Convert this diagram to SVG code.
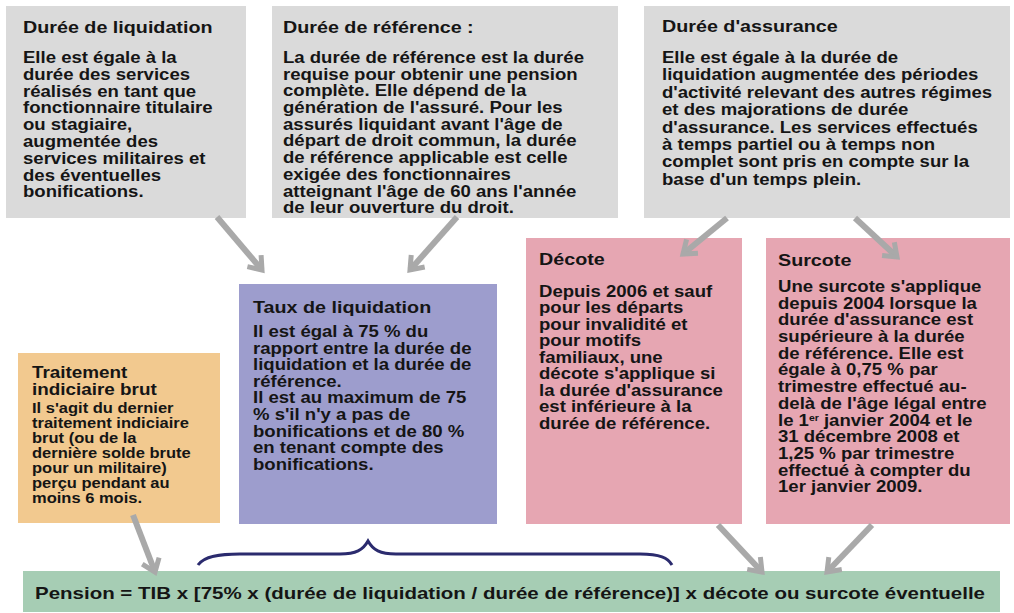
<svg xmlns="http://www.w3.org/2000/svg" width="1014" height="613" viewBox="0 0 1014 613">
<style>
.t{font-family:"Liberation Sans",Arial,sans-serif;font-weight:bold;fill:#151515}
.h{font-size:17px}
.b{font-size:16px}
.s{font-size:14px}
.gray{fill:#dadada}
.orange{fill:#f2c98f}
.purple{fill:#9d9dcd}
.pink{fill:#e6a6b2}
.green{fill:#a6cdb4}
.arr{stroke:#a9a9a9;stroke-width:6;fill:none;marker-end:url(#chev)}
</style>
<defs>
<marker id="chev" viewBox="0 0 24 24" markerWidth="24" markerHeight="24" refX="19" refY="12" orient="auto" markerUnits="userSpaceOnUse">
<path d="M7,3 L19,12 L7,21" fill="none" stroke="#a9a9a9" stroke-width="5"/>
</marker>
</defs>
<rect width="1014" height="613" fill="#ffffff"/>

<g id="duree-liquidation">
<rect class="gray" x="6" y="6" width="240" height="212"/>
<g transform="translate(23,0) scale(1.16,1)">
<text class="t h" x="0" y="33">Durée de liquidation</text>
<text class="t b"><tspan x="0" y="63">Elle est égale à la</tspan><tspan x="0" y="79.8">durée des services</tspan><tspan x="0" y="96.6">réalisés en tant que</tspan><tspan x="0" y="113.4">fonctionnaire titulaire</tspan><tspan x="0" y="130.2">ou stagiaire,</tspan><tspan x="0" y="147">augmentée des</tspan><tspan x="0" y="163.8">services militaires et</tspan><tspan x="0" y="180.6">des éventuelles</tspan><tspan x="0" y="197.4">bonifications.</tspan></text>
</g>
</g>

<g id="duree-reference">
<rect class="gray" x="272" y="6" width="346" height="212"/>
<g transform="translate(283,0) scale(1.16,1)">
<text class="t h" x="0" y="33">Durée de référence :</text>
<text class="t b"><tspan x="0" y="63">La durée de référence est la durée</tspan><tspan x="0" y="79.7">requise pour obtenir une pension</tspan><tspan x="0" y="96.4">complète. Elle dépend de la</tspan><tspan x="0" y="113.1">génération de l'assuré. Pour les</tspan><tspan x="0" y="129.8">assurés liquidant avant l'âge de</tspan><tspan x="0" y="146.5">départ de droit commun, la durée</tspan><tspan x="0" y="163.2">de référence applicable est celle</tspan><tspan x="0" y="179.9">exigée des fonctionnaires</tspan><tspan x="0" y="196.6">atteignant l'âge de 60 ans l'année</tspan><tspan x="0" y="213.3">de leur ouverture du droit.</tspan></text>
</g>
</g>

<g id="duree-assurance">
<rect class="gray" x="644" y="6" width="366" height="212"/>
<g transform="translate(662,0) scale(1.16,1)">
<text class="t h" x="0" y="32">Durée d'assurance</text>
<text class="t b"><tspan x="0" y="63">Elle est égale à la durée de</tspan><tspan x="0" y="80.4">liquidation augmentée des périodes</tspan><tspan x="0" y="97.8">d'activité relevant des autres régimes</tspan><tspan x="0" y="115.2">et des majorations de durée</tspan><tspan x="0" y="132.6">d'assurance. Les services effectués</tspan><tspan x="0" y="150">à temps partiel ou à temps non</tspan><tspan x="0" y="167.4">complet sont pris en compte sur la</tspan><tspan x="0" y="184.8">base d'un temps plein.</tspan></text>
</g>
</g>

<g id="tib">
<rect class="orange" x="18" y="353" width="202" height="170"/>
<g transform="translate(32,0) scale(1.18,1)">
<text class="t" font-size="16"><tspan x="0" y="378">Traitement</tspan><tspan x="0" y="395">indiciaire brut</tspan></text>
<text class="t s"><tspan x="0" y="413">Il s'agit du dernier</tspan><tspan x="0" y="428">traitement indiciaire</tspan><tspan x="0" y="443">brut (ou de la</tspan><tspan x="0" y="458">dernière solde brute</tspan><tspan x="0" y="473">pour un militaire)</tspan><tspan x="0" y="488">perçu pendant au</tspan><tspan x="0" y="503">moins 6 mois.</tspan></text>
</g>
</g>

<g id="taux">
<rect class="purple" x="239" y="284" width="258" height="240"/>
<g transform="translate(253,0) scale(1.16,1)">
<text class="t h" x="0" y="313">Taux de liquidation</text>
<text class="t b"><tspan x="0" y="337">Il est égal à 75 % du</tspan><tspan x="0" y="353.6">rapport entre la durée de</tspan><tspan x="0" y="370.2">liquidation et la durée de</tspan><tspan x="0" y="386.8">référence.</tspan><tspan x="0" y="403.4">Il est au maximum de 75</tspan><tspan x="0" y="420">% s'il n'y a pas de</tspan><tspan x="0" y="436.6">bonifications et de 80 %</tspan><tspan x="0" y="453.2">en tenant compte des</tspan><tspan x="0" y="469.8">bonifications.</tspan></text>
</g>
</g>

<g id="decote">
<rect class="pink" x="526" y="238" width="216" height="286"/>
<g transform="translate(539,0) scale(1.16,1)">
<text class="t h" x="0" y="265">Décote</text>
<text class="t b"><tspan x="0" y="297">Depuis 2006 et sauf</tspan><tspan x="0" y="313.5">pour les départs</tspan><tspan x="0" y="330">pour invalidité et</tspan><tspan x="0" y="346.5">pour motifs</tspan><tspan x="0" y="363">familiaux, une</tspan><tspan x="0" y="379.5">décote s'applique si</tspan><tspan x="0" y="396">la durée d'assurance</tspan><tspan x="0" y="412.5">est inférieure à la</tspan><tspan x="0" y="429">durée de référence.</tspan></text>
</g>
</g>

<g id="surcote">
<rect class="pink" x="766" y="238" width="244" height="286"/>
<g transform="translate(778,0) scale(1.16,1)">
<text class="t h" x="0" y="266">Surcote</text>
<text class="t b"><tspan x="0" y="292">Une surcote s'applique</tspan><tspan x="0" y="308.7">depuis 2004 lorsque la</tspan><tspan x="0" y="325.4">durée d'assurance est</tspan><tspan x="0" y="342.1">supérieure à la durée</tspan><tspan x="0" y="358.8">de référence. Elle est</tspan><tspan x="0" y="375.5">égale à 0,75 % par</tspan><tspan x="0" y="392.2">trimestre effectué au-</tspan><tspan x="0" y="408.9">delà de l'âge légal entre</tspan><tspan x="0" y="425.6">le 1<tspan font-size="9" dy="-5">er</tspan><tspan dy="5"> janvier 2004 et le</tspan></tspan><tspan x="0" y="442.3">31 décembre 2008 et</tspan><tspan x="0" y="459">1,25 % par trimestre</tspan><tspan x="0" y="475.7">effectué à compter du</tspan><tspan x="0" y="492.4">1er janvier 2009.</tspan></text>
</g>
</g>

<g id="pension">
<rect class="green" x="23" y="571" width="977" height="41"/>
<text class="t" font-size="16.5" x="35" y="599" textLength="950" lengthAdjust="spacingAndGlyphs">Pension = TIB x [75% x (durée de liquidation / durée de référence)] x décote ou surcote éventuelle</text>
</g>

<g id="connectors">
<line class="arr" x1="217" y1="217" x2="262" y2="270"/>
<line class="arr" x1="457" y1="217" x2="410" y2="270"/>
<line class="arr" x1="727" y1="218" x2="683" y2="254"/>
<line class="arr" x1="855" y1="218" x2="897" y2="257"/>
<line class="arr" x1="133" y1="515" x2="155" y2="572"/>
<line class="arr" x1="718" y1="525" x2="762" y2="572"/>
<line class="arr" x1="872" y1="525" x2="827" y2="572"/>
<path d="M198,565 C204,556 220,554 240,554 L340,554 C356,554 363,550 368,541 C373,550 380,554 396,554 L640,554 C660,554 668,558 672,565" fill="none" stroke="#2b2b6e" stroke-width="3"/>
</g>
</svg>
